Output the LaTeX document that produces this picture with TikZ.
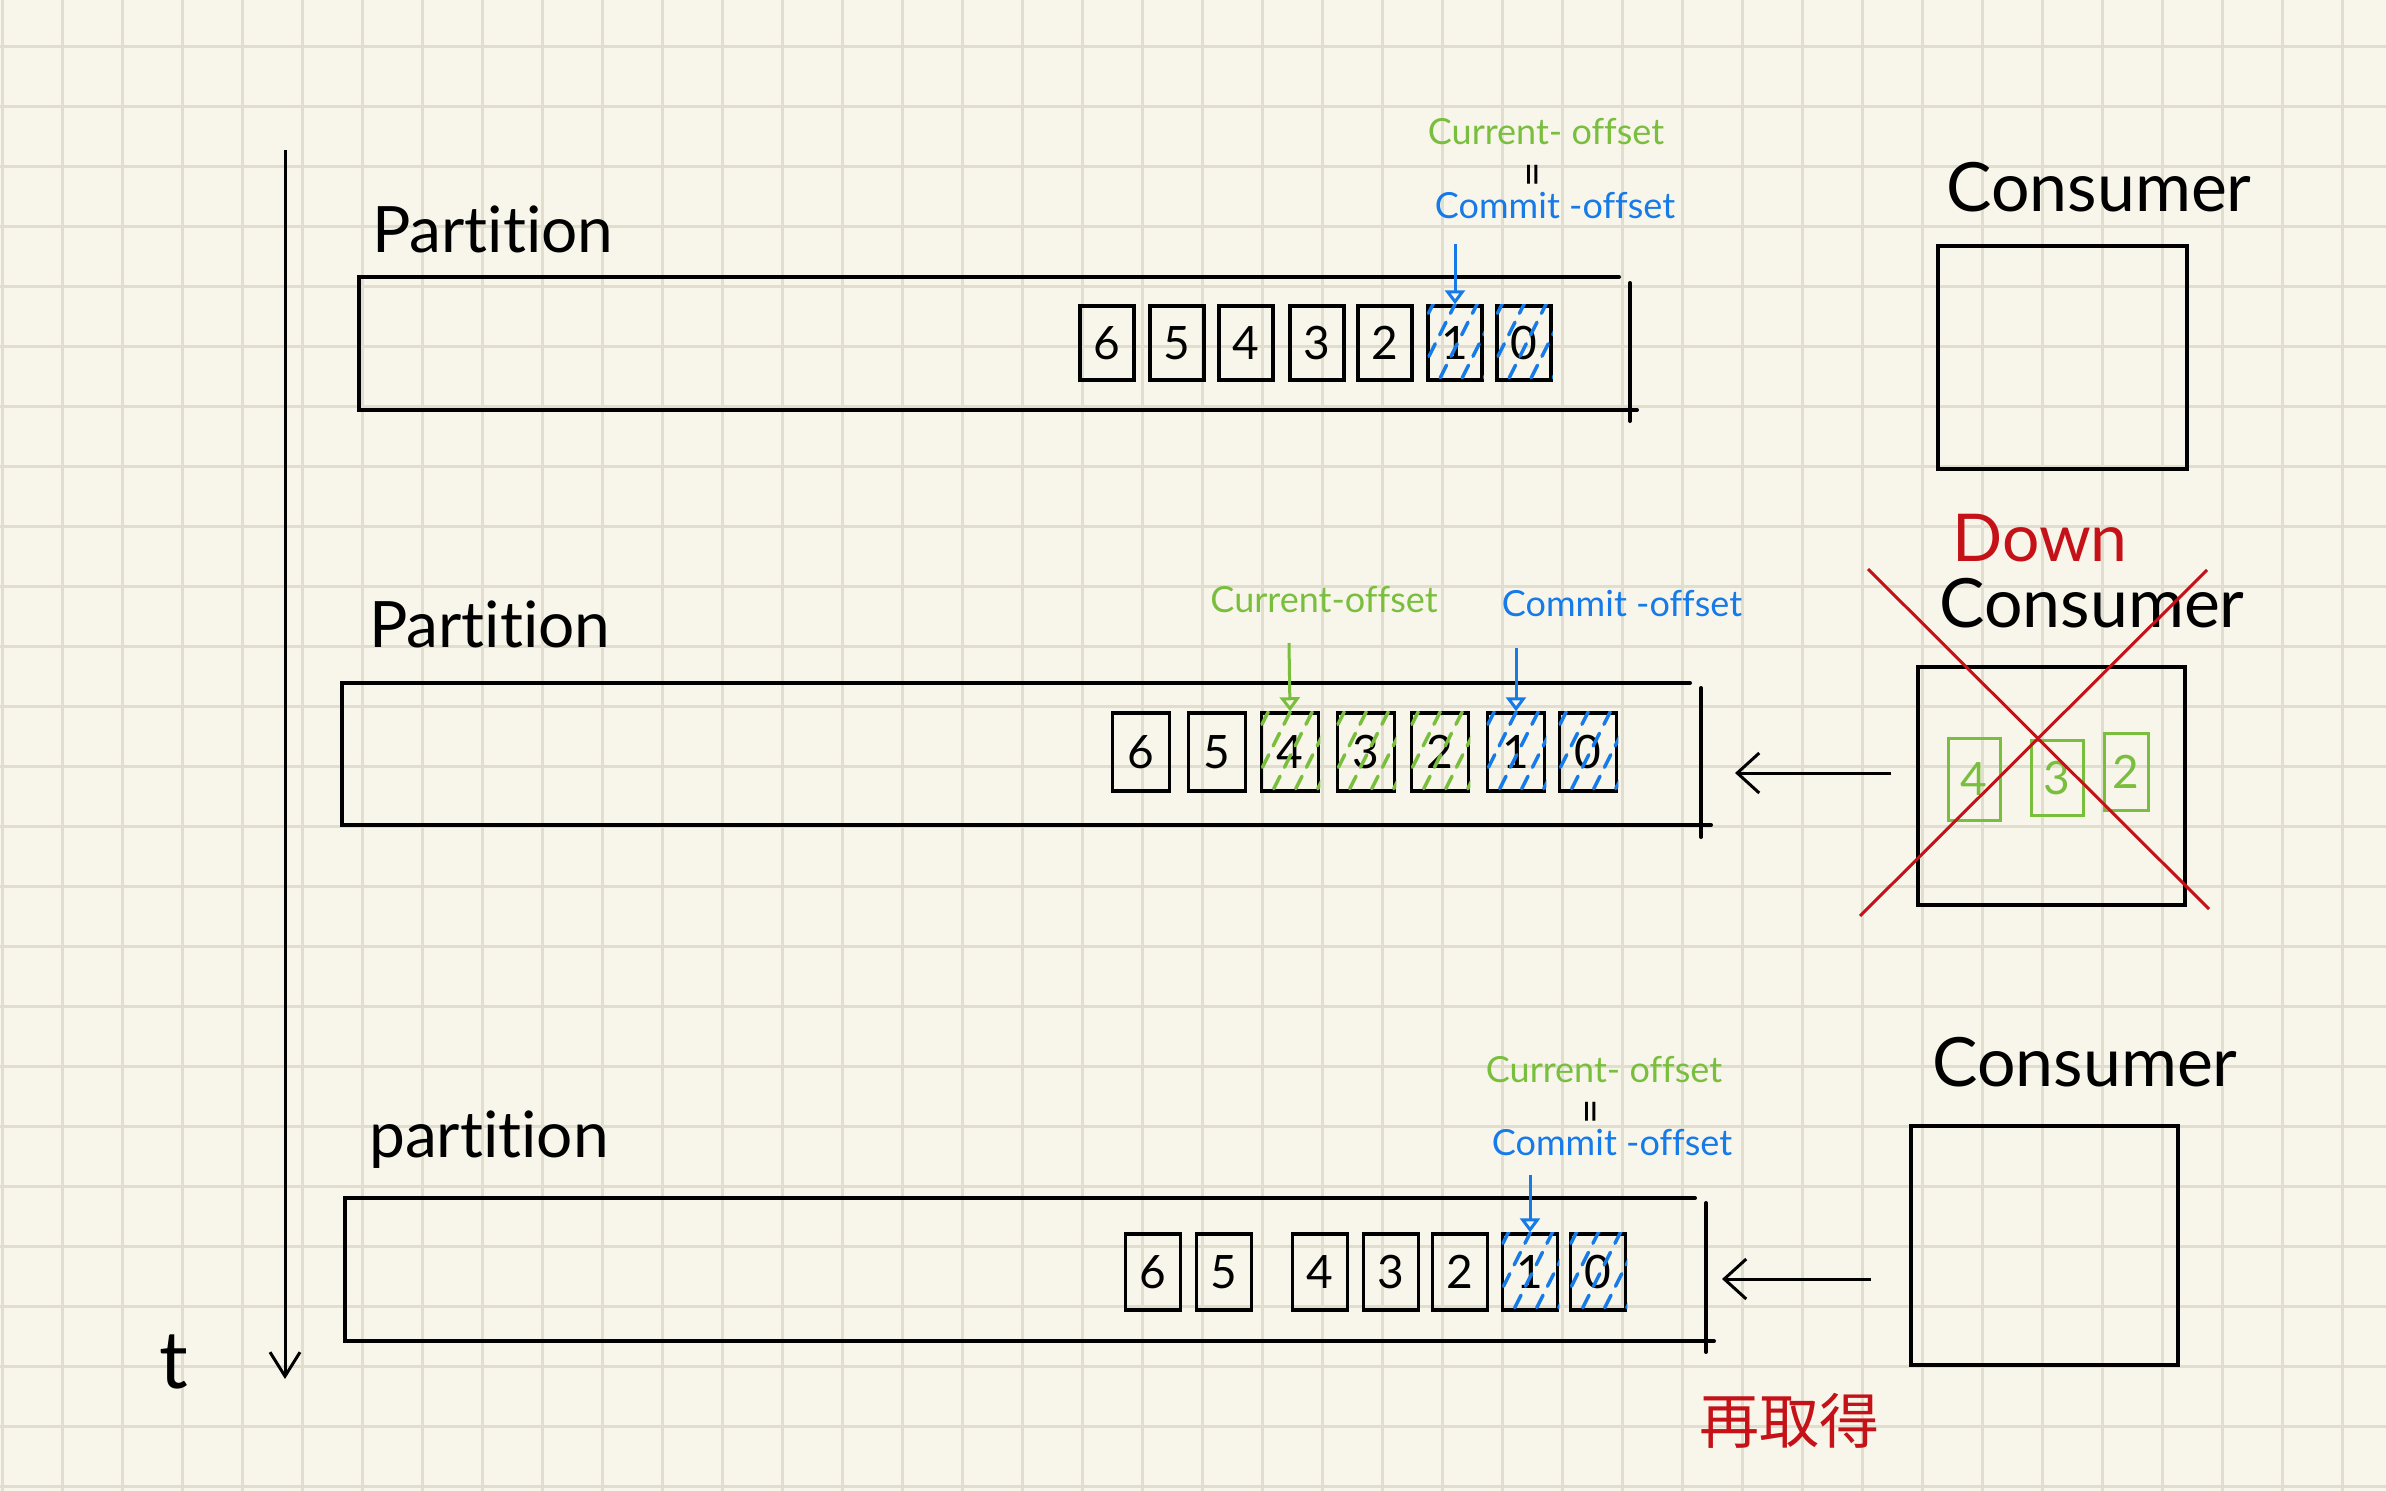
\documentclass[tikz,border=0pt]{standalone}
\usepackage{fontspec}
\setmainfont{Lato}[Ligatures=NoCommon]
\newfontfamily\jpfont{Noto Sans CJK JP}
\usetikzlibrary{arrows.meta}

\definecolor{paper}{RGB}{248,246,235}
\definecolor{gridline}{RGB}{225,222,208}
\definecolor{curgreen}{RGB}{122,190,62}
\definecolor{comblue}{RGB}{22,122,232}
\definecolor{downred}{RGB}{196,18,24}

% dashed diagonal shading inside a cell: #1 node name, #2 colour
\newcommand\hatchcell[2]{%
  \begin{scope}
    \clip (#1.south west) rectangle (#1.north east);
    \foreach \d in {-52,-30,...,70}
      \draw[#2, line width=3.5pt, line cap=round, dash pattern=on 14pt off 10pt]
        ([xshift=\d pt, yshift=4pt]#1.south west) -- ++(42pt,84pt);
  \end{scope}}

\begin{document}
\begin{tikzpicture}[x=1pt,y=-1pt,
  gridln/.style={gridline, line width=3pt},
  ink/.style={line width=4pt, line cap=round},
  cell/.style={draw, line width=3.5pt, inner sep=0pt, minimum width=54pt,
    minimum height=74pt, font=\fontsize{46}{50}\selectfont},
  consbox/.style={draw, line width=4pt, inner sep=0pt},
  part/.style={font=\fontsize{64}{70}\selectfont, anchor=base west, inner sep=0pt},
  cons/.style={font=\fontsize{68}{74}\selectfont, inner sep=0pt},
  curtxt/.style={curgreen, font=\fontsize{36}{40}\selectfont, inner sep=0pt},
  comtxt/.style={comblue, font=\fontsize{36}{40}\selectfont, inner sep=0pt},
  eqsign/.style={rotate=90, font=\fontsize{44}{48}\selectfont, inner sep=0pt},
  offarrow/.style={line width=3pt, -{Triangle[open, length=14pt, width=20pt]}},
  fetch/.style={line width=3pt, -{Straight Barb[length=22pt, width=40pt]}},
  smallcell/.style={draw=curgreen, text=curgreen, line width=3pt, inner sep=0pt,
    font=\fontsize{46}{50}\selectfont},
]
% paper and grid
\fill[paper] (0,0) rectangle (2386,1491);
\useasboundingbox (0,0) rectangle (2386,1491);
\foreach \i in {0,...,39} \draw[gridln] (2+60*\i,0) -- (2+60*\i,1491);
\foreach \j in {0,...,24} \draw[gridln] (0,46+60*\j) -- (2386,46+60*\j);

% time axis
\coordinate (tstart) at (285,150);
\coordinate (tend) at (285,1379);
\draw[line width=3pt, -{Straight Barb[length=24pt, width=30pt]}] (tstart) -- (tend);
\node[font=\fontsize{80}{84}\selectfont, inner sep=0pt] (tlabel) at (174,1362) {t};

% ---------- first stage ----------
\node[part] (lab1) at (372,252) {Partition};
\draw[ink] (1619,277) -- (359,277) -- (359,410) -- (1637,410);
\draw[ink] (1630,283) -- (1630,421);
\foreach \n/\x in {6/1107,5/1177,4/1246,3/1317,2/1385,1/1455,0/1524}
  \node[cell] (r1c\n) at (\x,343) {\n};
\hatchcell{r1c1}{comblue}
\hatchcell{r1c0}{comblue}
\node[curtxt] (cur1) at (1546,132) {Current- offset};
\node[eqsign] (eq1) at (1537,175) {=};
\node[comtxt] (com1) at (1555,206) {Commit -offset};
\coordinate (o1) at (1455,244);
\draw[offarrow, comblue] (o1) -- (r1c1.north);
\node[cons] (cl1) at (2099,187) {Consumer};
\node[consbox, minimum width=249pt, minimum height=223pt] (c1) at (2062.5,357.5) {};

% ---------- second stage ----------
\node[part] (lab2) at (369,647) {Partition};
\draw[ink] (1690,683) -- (342,683) -- (342,825) -- (1711,825);
\draw[ink] (1701,688) -- (1701,837);
\foreach \n/\x in {6/1141,5/1217,4/1290,3/1366,2/1440,1/1516,0/1588}
  \node[cell, minimum width=57pt, minimum height=78pt] (r2c\n) at (\x,752) {\n};
\hatchcell{r2c4}{curgreen}
\hatchcell{r2c3}{curgreen}
\hatchcell{r2c2}{curgreen}
\hatchcell{r2c1}{comblue}
\hatchcell{r2c0}{comblue}
\node[curtxt] (cur2) at (1324,600) {Current-offset};
\node[comtxt] (com2) at (1622,604) {Commit -offset};
\coordinate (o2g) at (1289,643);
\coordinate (o2b) at (1516,648);
\draw[offarrow, curgreen] (o2g) -- (r2c4.north);
\draw[offarrow, comblue] (o2b) -- (r2c1.north);
\node[downred, font=\fontsize{66}{70}\selectfont, inner sep=0pt] (down) at (2040,538) {Down};
\node[cons] (cl2) at (2092,603) {Consumer};
\node[consbox, minimum width=267pt, minimum height=238pt] (c2) at (2051.5,786) {};
\node[smallcell, minimum width=52pt, minimum height=82pt] (k4) at (1974,779) {4};
\node[smallcell, minimum width=52pt, minimum height=75pt] (k3) at (2057,778) {3};
\node[smallcell, minimum width=44pt, minimum height=77pt] (k2) at (2126,772) {2};
\draw[downred, line width=3pt] (1868,569) -- (2209,909);
\draw[downred, line width=3pt] (1860,916) -- (2207,570);
\coordinate (f2s) at (1891,773);
\coordinate (f2e) at (1735,773);
\draw[fetch] (f2s) -- (f2e);

% ---------- third stage ----------
\node[part] (lab3) at (369,1157) {partition};
\draw[ink] (1695,1198) -- (345,1198) -- (345,1341) -- (1714,1341);
\draw[ink] (1706,1203) -- (1706,1352);
\foreach \n/\x in {6/1153,5/1224,4/1320,3/1391,2/1460,1/1530,0/1598}
  \node[cell, minimum width=55pt, minimum height=76pt] (r3c\n) at (\x,1272) {\n};
\hatchcell{r3c1}{comblue}
\hatchcell{r3c0}{comblue}
\node[curtxt] (cur3) at (1604,1070) {Current- offset};
\node[eqsign] (eq3) at (1595,1112) {=};
\node[comtxt] (com3) at (1612,1143) {Commit -offset};
\coordinate (o3) at (1530,1175);
\draw[offarrow, comblue] (o3) -- (r3c1.north);
\node[cons] (cl3) at (2085,1062) {Consumer};
\node[consbox, minimum width=267pt, minimum height=239pt] (c3) at (2044.5,1245.5) {};
\coordinate (f3s) at (1871,1279);
\coordinate (f3e) at (1722,1279);
\draw[fetch] (f3s) -- (f3e);
\node[downred, font=\jpfont\fontsize{60}{64}\selectfont, inner sep=0pt] (refetch) at (1789,1421) {再取得};
\end{tikzpicture}
\end{document}
